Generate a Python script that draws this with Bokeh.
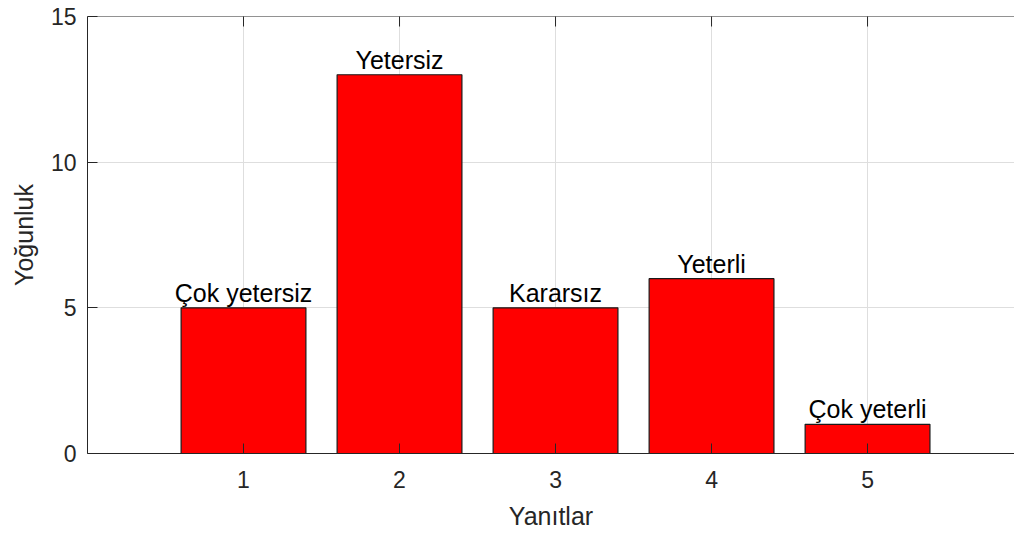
import math
from bokeh.plotting import figure
from bokeh.models import Range1d, FixedTicker, ColumnDataSource, Span
from bokeh.core.properties import value
from bokeh.embed import file_html
from bokeh.resources import INLINE

# Data
responses = [1, 2, 3, 4, 5]
counts = [5, 13, 5, 6, 1]
labels = ["Çok yetersiz", "Yetersiz", "Kararsız", "Yeterli", "Çok yeterli"]
x_ticks = [1, 2, 3, 4, 5]
y_ticks = [0, 5, 10, 15]
y_max = 15

FONT = "Liberation Sans"
AX = "#262626"

src = ColumnDataSource(dict(x=responses, top=counts, label=labels))

p = figure(width=1014, height=533, output_backend="svg", toolbar_location=None,
           x_range=Range1d(0, 5.942), y_range=Range1d(0, y_max),
           min_border_left=87, min_border_right=0, min_border_top=16, min_border_bottom=80)
p.outline_line_color = None
p.background_fill_color = "white"

p.xgrid.ticker = FixedTicker(ticks=x_ticks)
p.ygrid.ticker = FixedTicker(ticks=y_ticks)
p.grid.grid_line_color = "#dedede"
p.grid.grid_line_width = 1

p.vbar(x="x", top="top", width=0.8, source=src, fill_color="#ff0000",
       line_color="#1a1a1a", line_width=1.2)
p.text(x="x", y="top", text="label", source=src, text_align="center",
       text_baseline="bottom", y_offset=-1, text_font=value(FONT),
       text_font_size="25px", text_color="#000000")

# top box edge with inward ticks (MATLAB-style box)
p.add_layout(Span(location=y_max, dimension="width", line_color=AX, line_width=1))
p.scatter(x=x_ticks, y=[y_max] * len(x_ticks), marker="dash", angle=math.pi / 2,
          size=20, line_color=AX, line_width=1)

for ax in (p.xaxis[0], p.yaxis[0]):
    ax.major_tick_in = 10
    ax.major_tick_out = 0
    ax.minor_tick_line_color = None
    ax.axis_line_color = AX
    ax.major_tick_line_color = AX
    ax.major_label_text_font = FONT
    ax.major_label_text_font_size = "23px"
    ax.major_label_text_color = AX
    ax.axis_label_text_font = FONT
    ax.axis_label_text_font_size = "25px"
    ax.axis_label_text_font_style = "normal"
    ax.axis_label_text_color = AX

p.xaxis.ticker = FixedTicker(ticks=x_ticks)
p.yaxis.ticker = FixedTicker(ticks=y_ticks)
p.xaxis.axis_label = "Yanıtlar"
p.yaxis.axis_label = "Yoğunluk"
p.xaxis.major_label_standoff = 17
p.xaxis.axis_label_standoff = 11
p.yaxis.major_label_standoff = 11
p.yaxis.axis_label_standoff = 10

open("out.html", "w").write(file_html(p, INLINE))
